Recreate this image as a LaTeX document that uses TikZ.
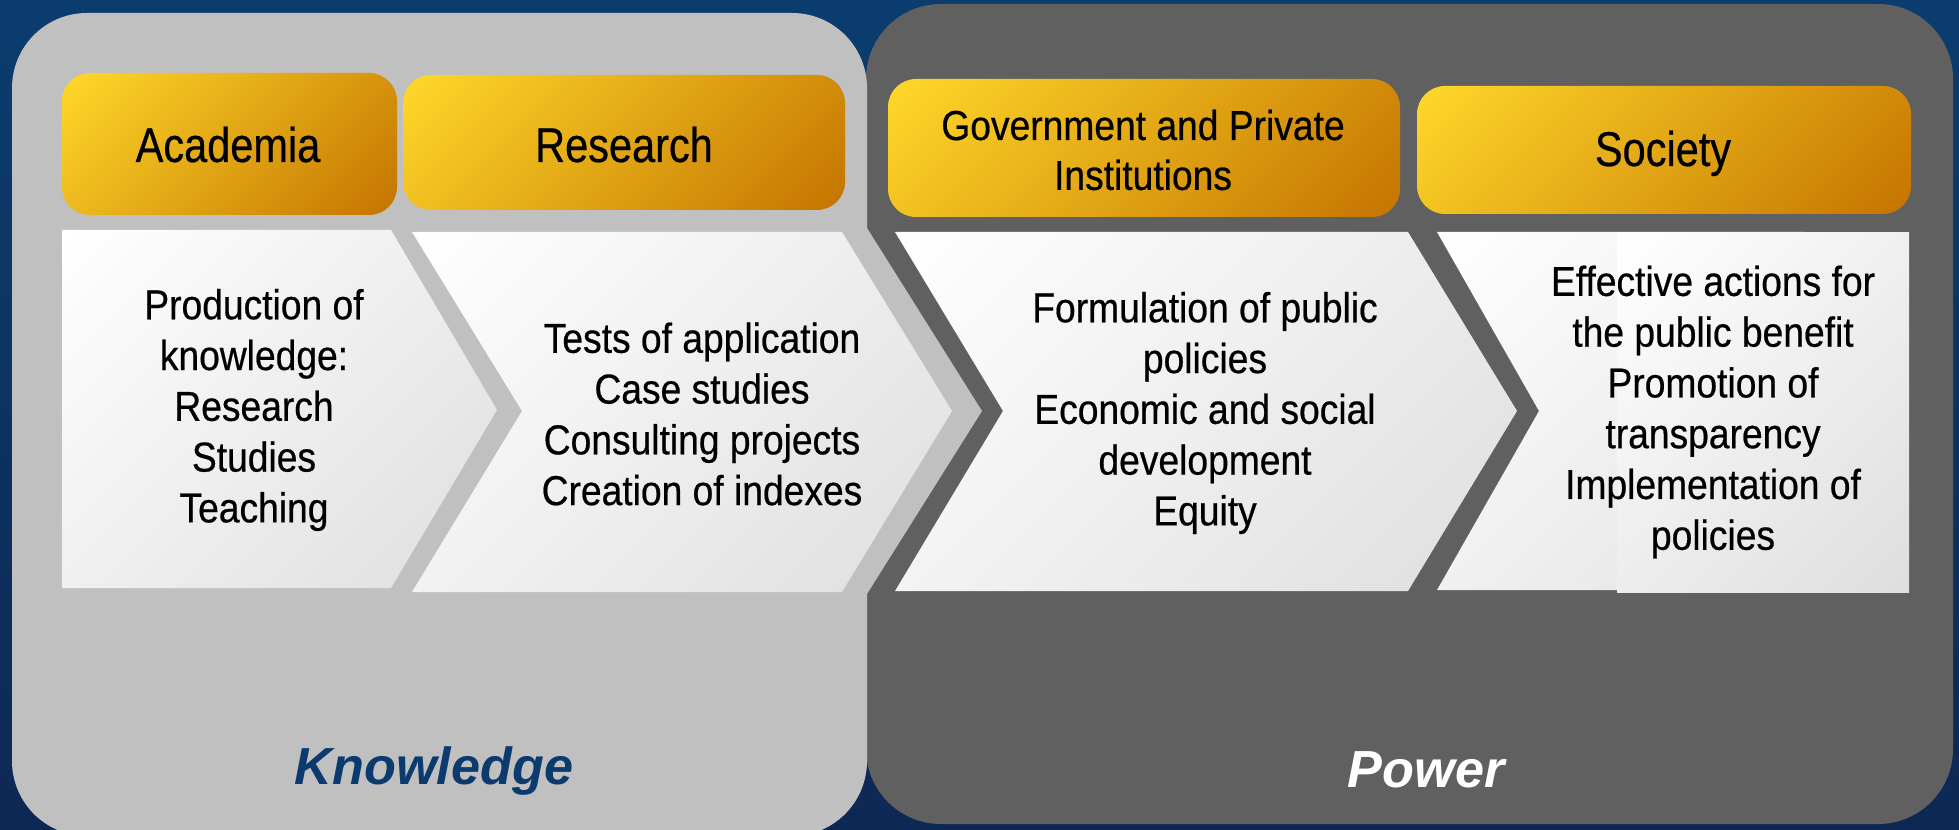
\documentclass[tikz,border=0pt]{standalone}
\usepackage{xcolor}
\usepackage{fontspec}
\usepackage{tikz}
\setmainfont{Liberation Sans}
\newfontfamily\headfont[FakeStretch=0.85,FakeBold=0.5]{Liberation Sans}
\newfontfamily\bodyfont[FakeStretch=0.89,FakeBold=0.5]{Liberation Sans}
\usetikzlibrary{positioning}
\definecolor{bgtop}{RGB}{10,61,110}
\definecolor{bgbot}{RGB}{14,40,84}
\definecolor{lightpanel}{RGB}{192,192,192}
\definecolor{darkpanel}{RGB}{96,96,96}
\definecolor{goldtop}{RGB}{255,216,42}
\definecolor{goldbot}{RGB}{196,116,0}
\definecolor{silver}{RGB}{222,222,222}
\definecolor{navy}{RGB}{11,58,110}
\pgfdeclareverticalshading{goldshade}{100bp}{color(0bp)=(goldbot); color(14.6bp)=(goldbot); color(85.4bp)=(goldtop); color(100bp)=(goldtop)}
\pgfdeclareverticalshading{whiteshade}{100bp}{color(0bp)=(silver); color(14.6bp)=(silver); color(85.4bp)=(white); color(100bp)=(white)}

\begin{document}
\begin{tikzpicture}[x=0.02cm,y=-0.02cm,
                    panel/.style={rounded corners=1.5cm},
                    gold box/.style={rounded corners=0.56cm,shading=goldshade,shading angle=45},
                    white shape/.style={shading=whiteshade,shading angle=45},
                    head node/.style={font=\headfont\fontsize{27.8}{28.4}\selectfont,anchor=base,inner sep=0pt},
                    body node/.style={font=\bodyfont\fontsize{23.8}{28.9}\selectfont,align=center,inner sep=0pt},
                    side node/.style={font=\fontsize{29.7}{30}\selectfont\bfseries\itshape,anchor=base,inner sep=0pt}]

  \useasboundingbox (0,0) rectangle (1959,830);
  \clip (0,0) rectangle (1959,830);
  \shade[top color=bgtop,bottom color=bgbot] (0,0) rectangle (1959,830);

  \fill[darkpanel,panel] (866,4) rectangle (1953,824);
  \fill[lightpanel,panel] (12,13) rectangle (867,836);
  \fill[lightpanel] (842,228) -- (867,228) -- (982,411) -- (867,594) -- (842,594) -- cycle;

  \shade[gold box] (62,73) rectangle (397,215);
  \shade[gold box] (403,75) rectangle (845,210);
  \shade[gold box] (888,79) rectangle (1400,217);
  \shade[gold box] (1417,86) rectangle (1911,214);

  \shade[white shape] (62,230) -- (391,230) -- (497,410) -- (391,588) -- (62,588) -- cycle;
  \shade[white shape] (412,232) -- (842,232) -- (952,411) -- (842,592) -- (412,592) -- (522,411) -- cycle;
  \shade[white shape] (895,232) -- (1408,232) -- (1517,411) -- (1408,591) -- (895,591) -- (1003,411) -- cycle;
  \shade[white shape] (1437,232) -- (1805,232) -- (1905,411) -- (1805,590) -- (1437,590) -- (1539,411) -- cycle;
  \shade[white shape] (1617,233) rectangle (1909,592);

  \node[head node] (acad) at (228,162) {Academia};
  \node[head node] (res) at (624,162) {Research};
  \node[body node,font=\bodyfont\fontsize{23.8}{28.4}\selectfont] (gov) at (1143,150) {Government and Private\\Institutions};
  \node[head node] (soc) at (1663,166) {Society};

  \node[body node] (1) at (254,410) {Production of\\knowledge:\\Research\\Studies\\Teaching};
  \node[body node] (2) at (702,414) {Tests of application\\Case studies\\Consulting projects\\Creation of indexes};
  \node[body node] (3) at (1205,413) {Formulation of public\\policies\\Economic and social\\development\\Equity};
  \node[body node] (4) at (1713,412) {Effective actions for\\the public benefit\\Promotion of\\transparency\\Implementation of\\policies};

  \node[side node,text=navy] (know) at (434,784) {Knowledge};
  \node[side node,text=white] (pow) at (1426,787) {Power};

\end{tikzpicture}
\end{document}
